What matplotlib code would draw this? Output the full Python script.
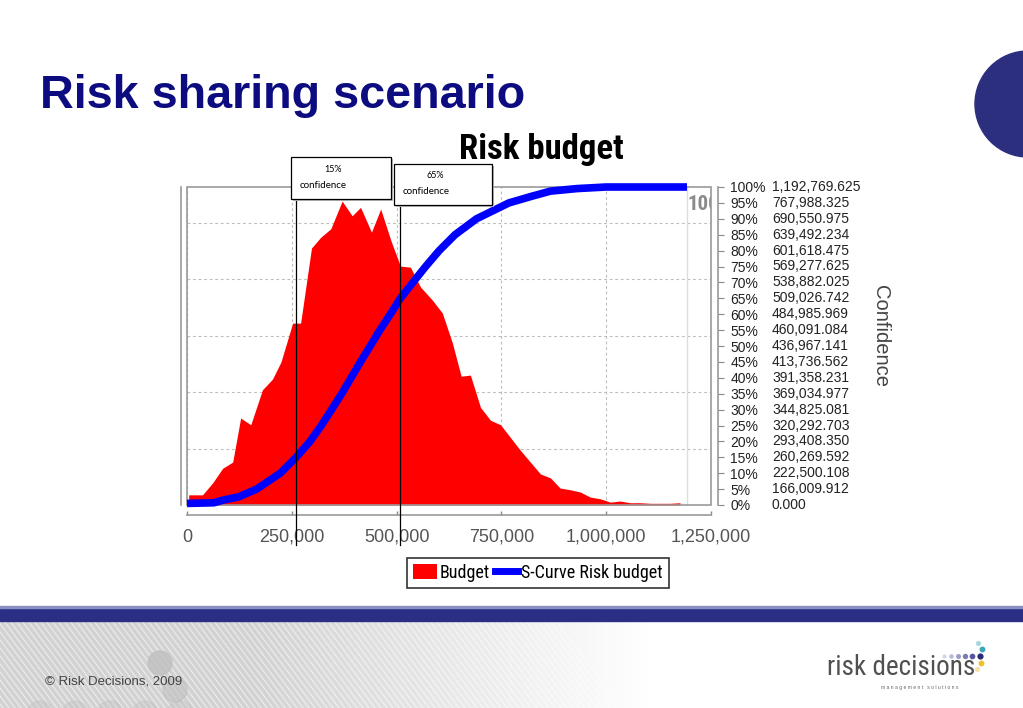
import numpy as np
import matplotlib
matplotlib.use("Agg")
import matplotlib.pyplot as plt
from matplotlib import font_manager
from matplotlib.patches import Rectangle, Circle, Patch
from matplotlib.lines import Line2D
from matplotlib.transforms import blended_transform_factory
from matplotlib.ticker import FuncFormatter

# budget histogram (area)
budget_x = [4000, 12000, 37000, 61000, 85000, 109000, 128000, 152000, 180000,
            204000, 224000, 252000, 271000, 297000, 319000, 343000, 370000,
            394000, 414000, 440000, 462000, 486000, 509000, 533000, 557000,
            585000, 609000, 633000, 654000, 676000, 700000, 724000, 748000,
            771000, 795000, 819000, 843000, 867000, 890000, 914000, 938000,
            962000, 986000, 1010000, 1033000, 1057000, 1081000, 1105000,
            1129000, 1152000, 1176000]
budget_y = [18, 18, 18, 39, 65, 76, 154, 142, 204, 223, 253, 322, 322, 455,
            474, 489, 538, 512, 527, 483, 524, 469, 423, 421, 386, 363, 340,
            287, 228, 230, 173, 150, 142, 120, 97, 76, 55, 48, 30, 27, 23, 14,
            11, 5, 7, 4, 4, 3, 3, 3, 4]

# confidence table on the right axis
conf_pct = [100, 95, 90, 85, 80, 75, 70, 65, 60, 55, 50, 45, 40, 35, 30, 25,
            20, 15, 10, 5, 0]
conf_val = [1192769.625, 767988.325, 690550.975, 639492.234, 601618.475,
            569277.625, 538882.025, 509026.742, 484985.969, 460091.084,
            436967.141, 413736.562, 391358.231, 369034.977, 344825.081,
            320292.703, 293408.350, 260269.592, 222500.108, 166009.912, 0.000]

# s-curve tails (outside the 5%..95% table points)
tail_lo_x = [0, 64000, 88000, 124000, 152000]
tail_lo_y = [0.5, 0.7, 1.6, 2.6, 4.2]
tail_hi_x = [820000, 867000, 930000, 1000000, 1192769.625]
tail_hi_y = [97.0, 98.7, 99.5, 100.0, 100.0]

xticks = [0, 250000, 500000, 750000, 1000000, 1250000]

names = {f.name for f in font_manager.fontManager.ttflist}
def pick(*cands):
    for c in cands:
        if c in names:
            return c
    return 'DejaVu Sans'

sans = pick('Liberation Sans', 'Arial', 'DejaVu Sans')
narrow = pick('Liberation Sans Narrow', 'Roboto Condensed', sans)
small = pick('Lato', 'Open Sans', sans)
plt.rcParams['font.family'] = [sans, 'DejaVu Sans']

W, H = 1023, 708
fig = plt.figure(figsize=(W / 100, H / 100), dpi=100)
fig.patch.set_facecolor('white')

# slide background
bg = fig.add_axes([0, 0, 1, 1], zorder=-10)
bg.set_xlim(0, W)
bg.set_ylim(H, 0)
bg.axis('off')
grad = np.clip((np.linspace(0, W, 400) - 250) / 400.0, 0, 1)
bg.imshow(grad[None, :], extent=(0, W, H, 621), aspect='auto',
          cmap=matplotlib.colors.LinearSegmentedColormap.from_list('g', ['#d2d2d2', '#ffffff']),
          vmin=0, vmax=1, zorder=0)
for x0 in np.arange(-80, 560, 6):
    bg.plot([x0, x0 + 65], [621, 708], color='white', lw=0.9, alpha=0.55, zorder=1)
for cx, cy, r, a in [(160, 663, 12, 0.8), (175, 690, 12, 0.6), (40, 714, 13, 0.35),
                     (75, 714, 13, 0.35), (110, 714, 13, 0.35), (145, 714, 13, 0.35),
                     (180, 714, 13, 0.35)]:
    bg.add_patch(Circle((cx, cy), r, color='#c0c0c0', alpha=a, zorder=2))
bg.add_patch(Rectangle((0, 607), W, 14, color='#2a2f85', zorder=3))
bg.add_patch(Rectangle((0, 606), W, 1.5, color='#8a8ec0', zorder=3))
bg.add_patch(Circle((1028, 104), 53, color='#2b2f7e', zorder=3))

bg.text(45, 682, '\u00a9 Risk Decisions, 2009', fontsize=9.5, color='#444444',
        va='center', ha='left', zorder=4)
bg.text(827, 675, 'risk decisions', fontsize=19.5, color='#505050',
        family=[narrow, 'DejaVu Sans'], va='baseline', ha='left', zorder=4)
bg.text(920, 687, 'm a n a g e m e n t   s o l u t i o n s', fontsize=3.6,
        color='#666666', va='center', ha='center', zorder=4)
for cx, cy, c, s in [(944, 656, '#d4d4ea', 9), (951, 656, '#babada', 11),
                     (958, 656, '#9c9cca', 13), (965, 656, '#7a7ab6', 15),
                     (972, 656, '#5656a0', 17), (980, 656, '#2a2a78', 20),
                     (978, 643, '#a8d8dc', 14), (982, 649, '#3aa6b6', 18),
                     (981, 663, '#f0c030', 18), (977, 669, '#f6e2a8', 14)]:
    bg.scatter([cx], [cy], s=s, color=c, zorder=5, linewidths=0)

fig.text(40 / W, 1 - 108 / H, 'Risk sharing scenario', fontsize=33.7,
         fontweight='bold', color='#0c0c80', ha='left', va='baseline')
fig.text(459 / W, 1 - 159 / H, 'Risk budget', fontsize=25, fontweight='bold',
         family=[narrow, 'DejaVu Sans'], color='black', ha='left', va='baseline')

# main chart
ax = fig.add_axes([187 / W, 1 - 505 / H, 524 / W, 318 / H])
ax.set_xlim(0, 1250000)
ax.set_ylim(0, 563)
ax.fill_between(budget_x, budget_y, 0, color='#ff0000', lw=0, zorder=2)
ax.axvline(conf_val[0], color='#cfe8cf', lw=1, zorder=1)
ax.text(conf_val[0], 0.945, '100%', transform=blended_transform_factory(ax.transData, ax.transAxes),
        fontsize=15, fontweight='bold', color='#8a8a8a', va='center', ha='left',
        family=[narrow, 'DejaVu Sans'], clip_on=True, zorder=3)
ax.set_xticks(xticks)
ax.xaxis.set_major_formatter(FuncFormatter(lambda v, p: f'{int(v):,}'))
ax.set_yticks([100, 200, 300, 400, 500])
ax.grid(True, color='#bdbdbd', lw=0.8, ls=(0, (2.5, 2.5)))
ax.set_axisbelow(True)
for s in ['top', 'right']:
    ax.spines[s].set_visible(False)
ax.spines['bottom'].set_position(('outward', 7))
ax.spines['left'].set_position(('outward', 4))
for s in ['bottom', 'left']:
    ax.spines[s].set_color('#999999')
    ax.spines[s].set_linewidth(1.2)
ax.add_patch(Rectangle((0, 0), 1, 1, transform=ax.transAxes, fill=False,
                       ec='#999999', lw=1.2, clip_on=False, zorder=4))

ax2 = ax.twinx()
ax.tick_params(axis='x', direction='in', length=3, width=1, color='#888888',
               labelsize=13, labelcolor='#555555', pad=10)
ax.tick_params(axis='y', left=False, right=False, labelleft=False, labelright=False)
ax2.set_ylim(0, 100)
curve_x = tail_lo_x + conf_val[1:-1][::-1] + tail_hi_x
curve_y = tail_lo_y + conf_pct[1:-1][::-1] + tail_hi_y
ax2.plot(curve_x, curve_y, color='#0000ff', lw=5.5, solid_capstyle='butt',
         clip_on=False, zorder=3)
ax2.set_yticks(conf_pct)
ax2.set_yticklabels([f'{p}%' for p in conf_pct])
ax2.tick_params(axis='y', direction='out', length=4, color='#888888',
                labelsize=10, labelcolor='#222222', pad=5)
for s in ['top', 'left', 'bottom']:
    ax2.spines[s].set_visible(False)
ax2.spines['right'].set_position(('outward', 5))
ax2.spines['right'].set_color('#999999')
ax2.spines['right'].set_linewidth(1.2)
tr = blended_transform_factory(ax2.transAxes, ax2.transData)
for p, v in zip(conf_pct, conf_val):
    ax2.text((772 - 187) / 524, p, f'{v:,.3f}', transform=tr, fontsize=10,
             color='#222222', va='center', ha='left', clip_on=False)
ax2.text((880 - 187) / 524, 0.53, 'Confidence', transform=ax2.transAxes,
         rotation=270, fontsize=14.5, color='#444444', va='center', ha='center')

# confidence markers (15% and 65%)
trx = blended_transform_factory(ax2.transData, ax2.transAxes)
for v in [conf_val[17], conf_val[7]]:
    ax2.plot([v, v], [-0.126, 0.962], transform=trx, color='black', lw=0.9,
             clip_on=False, zorder=6)

ov = fig.add_axes([0, 0, 1, 1], zorder=10)
ov.set_xlim(0, W)
ov.set_ylim(H, 0)
ov.axis('off')
ov.patch.set_alpha(0)
for (x0, y0, w, h), lab in [((291, 157, 100, 42), '15%'), ((394, 164, 98, 41), '65%')]:
    ov.add_patch(Rectangle((x0 + 1.5, y0 + 1.5), w, h, fc='#bbbbbb', ec='none'))
    ov.add_patch(Rectangle((x0, y0), w, h, fc='white', ec='black', lw=0.9))
    ov.text(x0 + w * 0.42, y0 + 12, lab, fontsize=6.5, family=[small, 'DejaVu Sans'],
            ha='center', va='center')
    ov.text(x0 + 9, y0 + 28, 'confidence', fontsize=7, family=[small, 'DejaVu Sans'],
            ha='left', va='center')

handles = [Patch(facecolor='#ff0000', edgecolor='none'),
           Line2D([0], [0], color='#0000ff', lw=5)]
leg = fig.legend(handles, ['Budget', 'S-Curve Risk budget'], loc='center',
                 bbox_to_anchor=(538 / W, 1 - 573 / H), ncol=2,
                 frameon=True, fancybox=False, edgecolor='black', borderpad=0.35,
                 handlelength=1.3, handletextpad=0.15, columnspacing=0.3,
                 handleheight=0.9, prop={'family': [narrow, 'DejaVu Sans'], 'size': 13})
leg.get_frame().set_linewidth(1.2)

fig.savefig('out.png', dpi=100, facecolor='white')
